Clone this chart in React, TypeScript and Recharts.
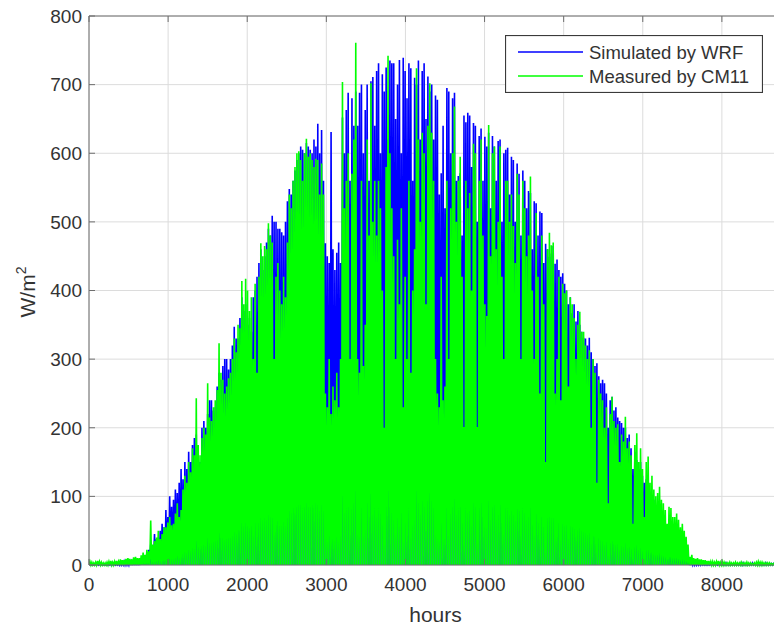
import { CartesianGrid, Legend, Line, LineChart, ReferenceLine, XAxis, YAxis } from 'recharts'

// daily peak irradiance (W/m2), one value per day of the year
const wrfPeaks = [
    2, 1, 1, 2, 3, 2, 2, 1, 1, 2, 2, 3, 3, 2, 2, 3, 4, 3, 5, 4,
    4, 6, 5, 7, 6, 8, 6, 9, 10, 12, 18, 22, 30, 26, 45, 38, 40, 50, 60, 55,
    80, 70, 100, 85, 95, 110, 105, 120, 140, 125, 150, 140, 165, 150, 175, 185, 190, 170, 150, 200,
    210, 200, 220, 240, 240, 225, 230, 260, 280, 270, 290, 300, 300, 285, 300, 320, 347, 330, 330, 360,
    390, 370, 380, 350, 360, 340, 390, 400, 420, 440, 460, 430, 450, 470, 490, 480, 509, 500, 500, 490,
    490, 485, 480, 500, 530, 548, 540, 560, 575, 590, 600, 610, 605, 600, 615, 610, 605, 600, 620, 610,
    643, 600, 634, 560, 469, 450, 440, 631, 460, 430, 455, 470, 440, 652, 600, 663, 688, 560, 680, 640,
    690, 640, 688, 700, 600, 663, 700, 560, 705, 711, 640, 720, 731, 600, 715, 690, 725, 620, 735, 731,
    731, 650, 700, 736, 600, 739, 720, 680, 731, 724, 560, 710, 700, 735, 620, 720, 731, 650, 712, 690,
    700, 620, 684, 678, 540, 571, 640, 520, 695, 690, 600, 680, 688, 560, 567, 571, 480, 655, 645, 659,
    655, 580, 644, 640, 500, 625, 636, 560, 624, 610, 630, 520, 625, 610, 560, 618, 620, 500, 600, 605,
    608, 540, 595, 590, 500, 585, 570, 480, 575, 560, 520, 545, 542, 460, 530, 527, 480, 515, 513, 440,
    468, 460, 449, 454, 465, 439, 445, 430, 420, 425, 410, 400, 380, 390, 367, 380, 355, 370, 350, 340,
    331, 330, 320, 331, 310, 300, 290, 294, 275, 265, 270, 265, 250, 200, 240, 245, 225, 230, 215, 210,
    207, 200, 200, 185, 190, 170, 140, 165, 153, 140, 150, 130, 120, 125, 110, 100, 90, 95, 80, 70,
    63, 58, 50, 45, 40, 42, 35, 30, 30, 28, 25, 22, 20, 18, 15, 10, 6, 5, 4, 4,
    3, 3, 3, 2, 2, 2, 2, 3, 2, 2, 3, 2, 2, 2, 2, 3, 2, 2, 2, 2,
    2, 2, 2, 3, 3, 2, 2, 2, 2, 3, 2, 2, 2, 2, 2, 2, 3, 2, 2, 2,
    2, 2, 2, 2, 2,
]

const cm11Peaks = [
    5, 4, 3, 4, 6, 5, 4, 3, 3, 4, 5, 6, 4, 5, 6, 5, 8, 7, 7, 9,
    10, 9, 8, 11, 12, 10, 10, 14, 18, 15, 22, 20, 65, 30, 35, 40, 50, 38, 45, 55,
    55, 62, 70, 58, 60, 75, 90, 70, 80, 110, 130, 120, 150, 135, 170, 160, 243, 175, 160, 185,
    200, 190, 265, 215, 210, 230, 240, 255, 323, 280, 270, 250, 260, 272, 280, 300, 330, 310, 350, 345,
    414, 380, 417, 400, 370, 390, 300, 410, 280, 420, 469, 450, 465, 460, 498, 480, 470, 300, 420, 440,
    400, 380, 420, 390, 470, 540, 520, 560, 580, 600, 603, 590, 560, 600, 621, 595, 600, 590, 580, 592,
    590, 540, 585, 540, 250, 230, 300, 220, 260, 240, 280, 230, 300, 704, 520, 560, 600, 300, 570, 620,
    761, 300, 280, 560, 290, 350, 620, 480, 702, 500, 560, 480, 560, 520, 400, 200, 580, 742, 600, 520,
    450, 300, 474, 380, 520, 230, 420, 300, 560, 280, 400, 460, 724, 620, 500, 630, 600, 380, 640, 702,
    630, 560, 300, 250, 230, 420, 240, 260, 560, 300, 520, 600, 668, 500, 560, 595, 420, 201, 560, 520,
    542, 400, 614, 600, 201, 560, 620, 480, 380, 363, 641, 450, 600, 610, 460, 500, 610, 420, 300, 560,
    560, 500, 540, 494, 440, 570, 540, 300, 560, 520, 450, 480, 566, 400, 300, 513, 420, 250, 480, 380,
    150, 460, 484, 466, 470, 250, 300, 420, 240, 410, 396, 400, 260, 390, 380, 360, 300, 350, 369, 340,
    340, 320, 300, 313, 200, 300, 280, 120, 270, 250, 240, 200, 230, 90, 220, 245, 210, 200, 205, 150,
    190, 180, 216, 170, 180, 160, 60, 175, 192, 150, 170, 140, 70, 150, 158, 120, 130, 110, 100, 105,
    114, 95, 90, 80, 60, 85, 83, 70, 70, 75, 66, 55, 60, 50, 41, 30, 12, 15, 10, 9,
    10, 8, 8, 7, 7, 6, 6, 5, 5, 4, 5, 6, 4, 5, 4, 3, 3, 4, 3, 3,
    4, 3, 3, 4, 3, 3, 4, 3, 3, 2, 3, 4, 5, 4, 4, 3, 3, 3, 3, 2,
    2, 3, 3, 2, 2,
]

const xTicks = [0, 1000, 2000, 3000, 4000, 5000, 6000, 7000, 8000]
const yTicks = [0, 100, 200, 300, 400, 500, 600, 700, 800]

const DAY = 24
const data: { hour: number; wrf: number; cm11: number }[] = []
wrfPeaks.forEach((w, i) => {
    data.push({ hour: i * DAY, wrf: 0, cm11: 0 })
    data.push({ hour: i * DAY + DAY / 2, wrf: w, cm11: cm11Peaks[i] ?? 0 })
})
data.push({ hour: wrfPeaks.length * DAY, wrf: 0, cm11: 0 })

const PLOT_TOP = 16
const PLOT_BOTTOM = 565
const PLOT_LEFT = 89
const FONT = 'Arial, "Liberation Sans", Helvetica, sans-serif'
const TEXT = '#333333'
const AXIS = '#6e6e6e'

const renderXTick = (props: any) => {
    const { x, y, payload } = props
    return (
        <g>
            <line x1={x} x2={x} y1={PLOT_BOTTOM} y2={PLOT_BOTTOM - 6} stroke={AXIS} />
            <line x1={x} x2={x} y1={PLOT_TOP} y2={PLOT_TOP + 6} stroke={AXIS} />
            <text x={x} y={y} dy="0.71em" textAnchor="middle" fill={TEXT} fontSize={19} fontFamily={FONT}>
                {payload.value}
            </text>
        </g>
    )
}

const renderYTick = (props: any) => {
    const { x, y, payload } = props
    return (
        <g>
            <line x1={PLOT_LEFT} x2={PLOT_LEFT + 6} y1={y} y2={y} stroke={AXIS} />
            <text x={x} y={y} dy="0.36em" textAnchor="end" fill={TEXT} fontSize={19} fontFamily={FONT}>
                {payload.value}
            </text>
        </g>
    )
}

const renderLegend = () => (
    <svg width={258} height={58} style={{ display: 'block' }}>
        <rect x={0.5} y={0.5} width={257} height={57} fill="#ffffff" stroke="#3a3a3a" strokeWidth={1.2} />
        <line x1={13} x2={78} y1={17} y2={17} stroke="#0000ff" strokeWidth={1.5} />
        <line x1={13} x2={78} y1={41} y2={41} stroke="#00ff00" strokeWidth={1.5} />
        <text x={84} y={17} dy="0.36em" fill={TEXT} fontSize={18.5} fontFamily={FONT}>Simulated by WRF</text>
        <text x={84} y={41} dy="0.36em" fill={TEXT} fontSize={18.5} fontFamily={FONT}>Measured by CM11</text>
    </svg>
)

export default function App() {
    return (
        <div style={{ position: 'absolute', left: 0, top: 0, width: 774, height: 627, overflow: 'hidden', background: '#fff' }}>
            <LineChart
                width={800}
                height={627}
                data={data}
                margin={{ top: PLOT_TOP, right: 18, bottom: 22, left: 0 }}
            >
                <CartesianGrid stroke="#dcdcdc" />
                <XAxis
                    dataKey="hour"
                    type="number"
                    domain={[0, 8760]}
                    ticks={xTicks}
                    interval={0}
                    allowDataOverflow
                    height={40}
                    tickSize={0}
                    tickMargin={13}
                    tickLine={false}
                    axisLine={{ stroke: AXIS }}
                    tick={renderXTick}
                    label={{ value: 'hours', position: 'bottom', offset: 2, fill: TEXT, fontSize: 21, fontFamily: FONT }}
                />
                <YAxis
                    type="number"
                    domain={[0, 800]}
                    ticks={yTicks}
                    interval={0}
                    width={PLOT_LEFT}
                    tickSize={0}
                    tickMargin={7}
                    tickLine={false}
                    axisLine={{ stroke: AXIS }}
                    tick={renderYTick}
                    label={{
                        content: () => (
                            <text transform="translate(35,292) rotate(-90)" textAnchor="middle" fill={TEXT} fontSize={21} fontFamily={FONT}>
                                W/m<tspan dy={-9} fontSize={14}>2</tspan>
                            </text>
                        ),
                    }}
                />
                <ReferenceLine y={800} stroke={AXIS} />
                <Legend
                    layout="horizontal"
                    verticalAlign="middle"
                    align="center"
                    wrapperStyle={{ left: 505, top: 35, width: 258, height: 58 }}
                    content={renderLegend}
                />
                <Line
                    type="linear"
                    dataKey="wrf"
                    stroke="#0000ff"
                    strokeWidth={1.6}
                    dot={false}
                    isAnimationActive={false}
                />
                <Line
                    type="linear"
                    dataKey="cm11"
                    stroke="#00ff00"
                    strokeWidth={1.6}
                    dot={false}
                    isAnimationActive={false}
                />
            </LineChart>
        </div>
    )
}
